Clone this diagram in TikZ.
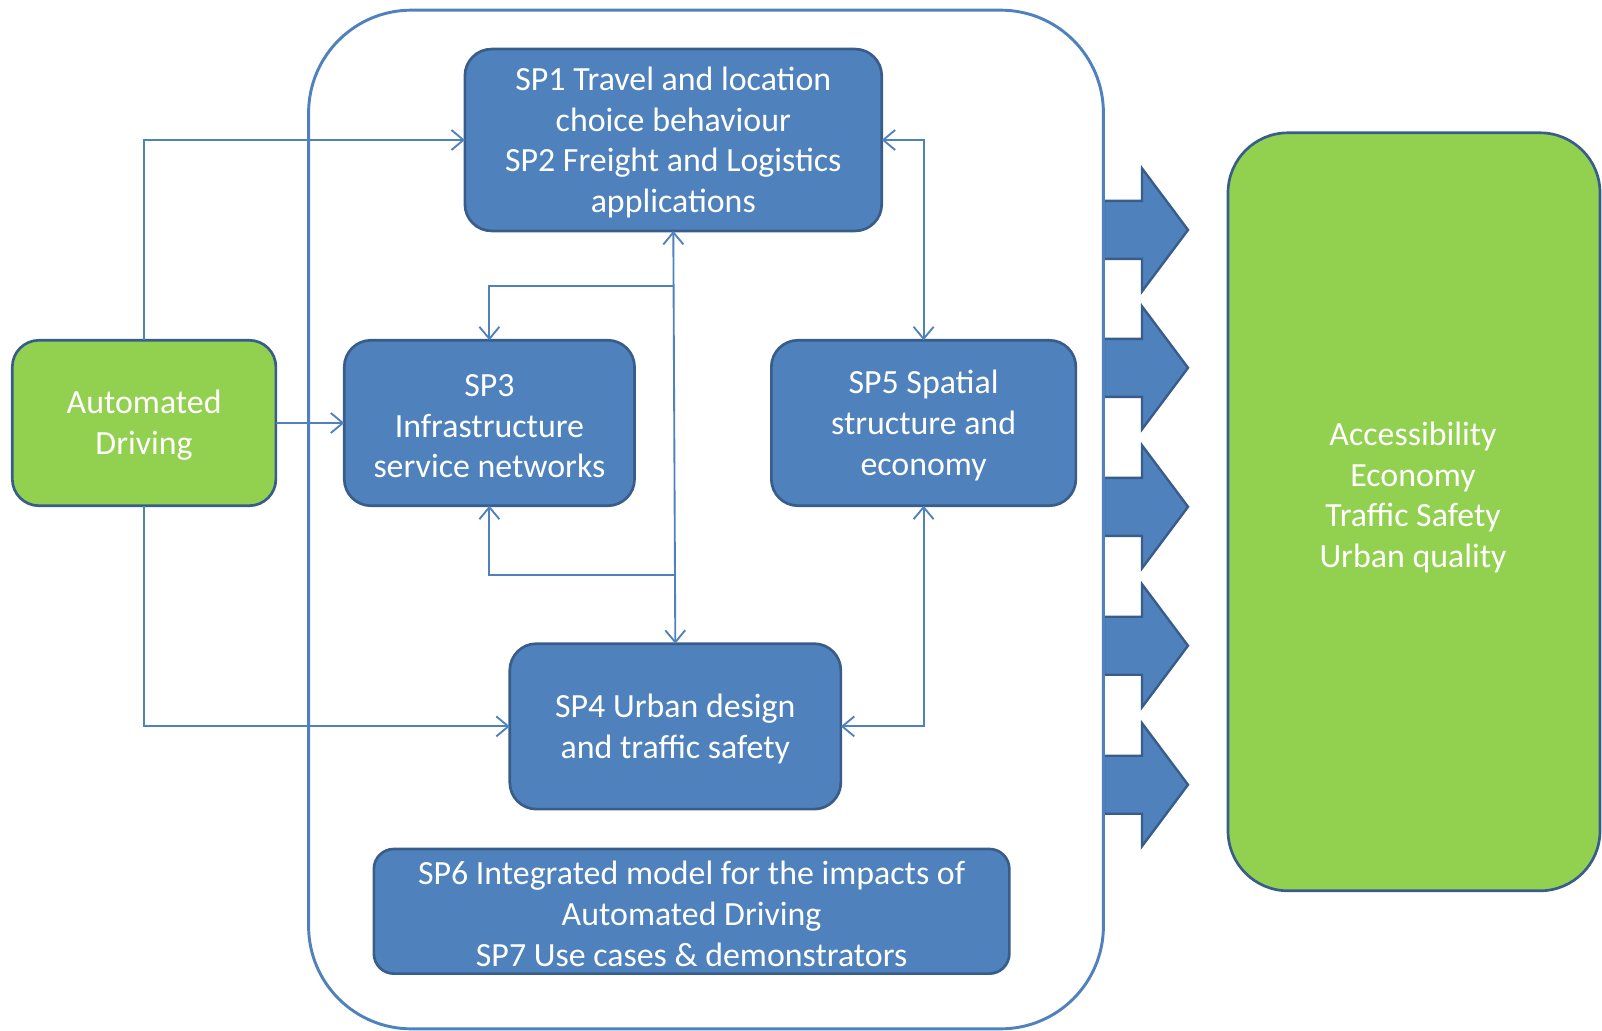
\documentclass[tikz,border=0pt]{standalone}
\usepackage{fontspec}
\setmainfont{Carlito}
\usetikzlibrary{arrows.meta}
\definecolor{blueF}{HTML}{4F81BD}
\definecolor{blueD}{HTML}{385D8A}
\definecolor{greenF}{HTML}{92D050}
\begin{document}
\begin{tikzpicture}[x=0.75pt,y=-0.75pt,
  box/.style={draw=blueD, line width=2pt, rounded corners=20pt, fill=blueF, text=white,
    align=center, inner sep=0pt, outer sep=0pt, font=\fontsize{25.4}{30.6}\selectfont},
  gbox/.style={box, fill=greenF},
  conn/.style={draw=blueF, line width=1.4pt, -{Straight Barb[length=9pt,width=15pt]}},
  conn2/.style={draw=blueF, line width=1.4pt, {Straight Barb[length=9pt,width=15pt]}-{Straight Barb[length=9pt,width=15pt]}},
  fat/.style={fill=blueF, draw=blueD, line width=1.8pt, line join=miter}
]
\useasboundingbox (0,0) rectangle (1602,1031);

% fat output arrows
\foreach \c in {229.9,367.8,506.8,645.7,784.7}{
  \draw[fat] (1104,\c-29) -- (1142,\c-29) -- (1142,\c-61.5) -- (1188,\c)
    -- (1142,\c+61.5) -- (1142,\c+29) -- (1104,\c+29) -- cycle;
}

% outer container
\node[draw=blueF, line width=2.2pt, rounded corners=77pt, minimum width=596.1pt,
  minimum height=764pt, inner sep=0pt] (outer) at (706,519.5) {};

% boxes
\node[box, minimum width=312.6pt, minimum height=136.4pt] (SP1) at (673.3,140)
  {\strut SP1 Travel and location\\choice behaviour\\SP2 Freight and Logistics\\applications};
\node[box, minimum width=217.7pt, minimum height=124.1pt] (SP3) at (489.4,423)
  {\strut SP3\\Infrastructure\\service networks};
\node[box, minimum width=228.4pt, minimum height=124.1pt] (SP5) at (923.6,423)
  {\strut SP5 Spatial\\structure and\\economy};
\node[box, minimum width=248.3pt, minimum height=124.1pt] (SP4) at (675.3,726.4)
  {\strut SP4 Urban design\\and traffic safety};
\node[box, rounded corners=15pt, minimum width=476.6pt, minimum height=93.5pt] (SP6) at (691.6,911.3)
  {\strut SP6 Integrated model for the impacts of\\Automated Driving\\SP7 Use cases \& demonstrators};
\node[gbox, minimum width=197.7pt, minimum height=124.1pt] (AD) at (144.1,423)
  {\strut Automated\\Driving};
\node[gbox, rounded corners=45pt, minimum width=279pt, minimum height=568.5pt] (OUT) at (1414,511.8) {};
\node[text=white, align=center, inner sep=0pt, font=\fontsize{25.4}{30.6}\selectfont] (OUTtxt) at (1413,495)
  {\strut Accessibility\\Economy\\Traffic Safety\\Urban quality};

% connectors
\coordinate (j1) at (674.3,286);
\coordinate (j2) at (676,575);
\draw[conn] (AD.north) |- (SP1.west);
\draw[conn] (AD.east) -- (SP3.west);
\draw[conn] (AD.south) |- (SP4.west);
\draw[conn2] (SP1.south) -- (SP4.north);
\draw[conn] (j1) -| (SP3.north);
\draw[conn] (j2) -| (SP3.south);
\draw[conn2] (SP1.east) -| (SP5.north);
\draw[conn2] (SP4.east) -| (SP5.south);
\end{tikzpicture}
\end{document}
